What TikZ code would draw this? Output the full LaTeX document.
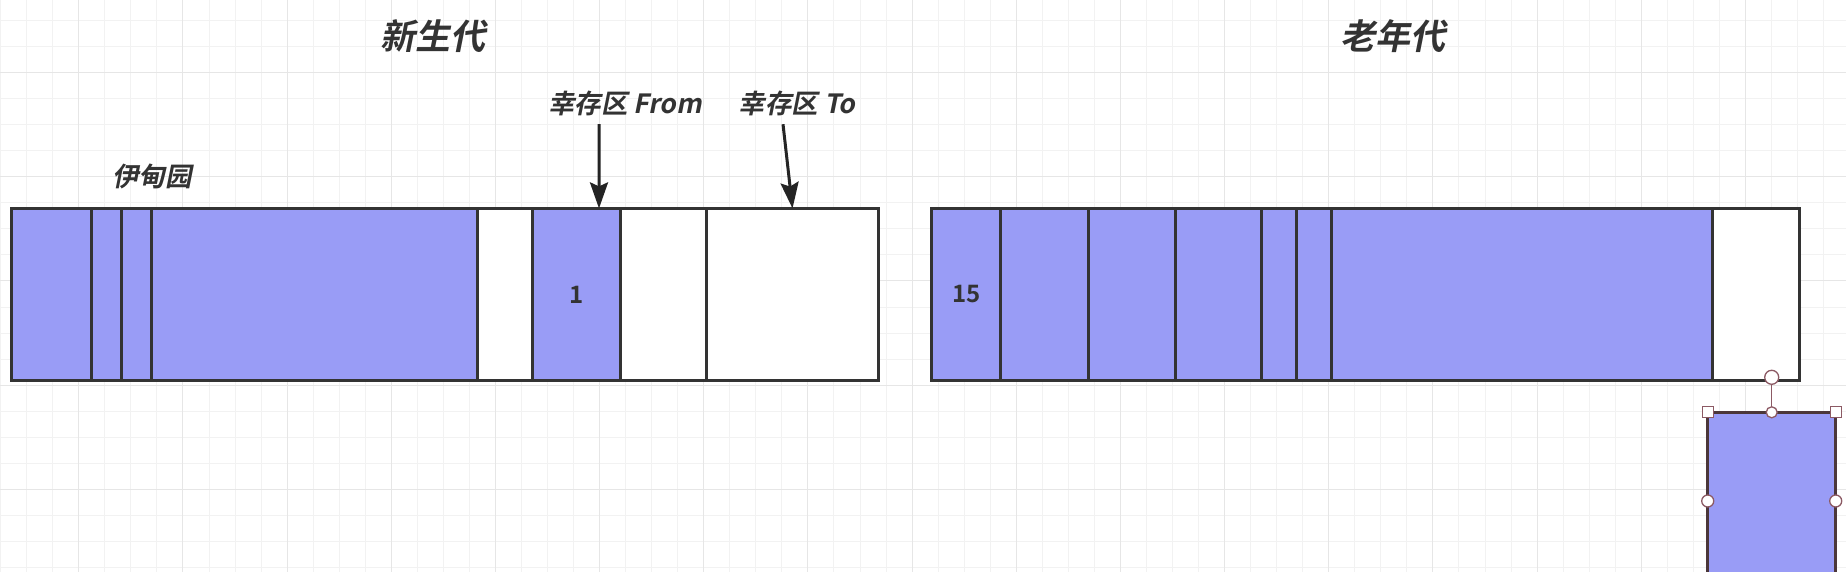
\documentclass[tikz,border=0pt]{standalone}
\usepackage{fontspec}
\newfontfamily\cjkslant{Noto Sans CJK SC Bold}[FakeSlant=0.2]
\newfontfamily\cjkupright{Noto Sans CJK SC Bold}
\usetikzlibrary{positioning,arrows.meta}
\definecolor{cellblue}{RGB}{153,156,246}
\definecolor{linedark}{RGB}{51,51,51}
\definecolor{gridminor}{RGB}{242,242,242}
\definecolor{gridmajor}{RGB}{230,230,230}
\definecolor{handle}{RGB}{140,90,100}
\definecolor{selline}{RGB}{75,55,58}

\begin{document}
\begin{tikzpicture}[x=1pt, y=-1pt, node distance=0pt,
  cell/.style = {draw=linedark, line width=3pt, minimum height=172pt, inner sep=0pt, outer sep=0pt,
                 text=linedark, font=\cjkupright\fontsize{24}{28}\selectfont},
  used/.style = {cell, fill=cellblue},
  free/.style = {cell, fill=white},
  title/.style = {text=linedark, font=\cjkslant\fontsize{35}{40}\selectfont},
  tag/.style = {text=linedark, font=\cjkslant\fontsize{26.5}{30}\selectfont,
                text height=20pt, text depth=6pt, inner sep=4pt},
  arr/.style = {draw=linedark!70!black, line width=3pt, -{Stealth[length=26pt, width=18pt, inset=4pt]}},
  hdl/.style = {draw=handle, fill=white, line width=1.3pt, inner sep=0pt}]

\useasboundingbox (0,0) rectangle (1846,572);
\clip (0,0) rectangle (1846,572);
\fill[white] (0,0) rectangle (1846,572);

% background grid
\foreach \i in {0,...,70} \draw[gridminor, line width=1pt] ({0.7+26.04*\i},0) -- ++(0,572);
\foreach \i in {0,...,22} \draw[gridminor, line width=1pt] (0,{20.56+26.04*(\i-1)}) -- ++(1846,0);
\foreach \i in {3,7,...,70} \draw[gridmajor, line width=1pt] ({0.7+26.04*\i},0) -- ++(0,572);
\foreach \i in {3,7,...,22} \draw[gridmajor, line width=1pt] (0,{20.56+26.04*(\i-1)}) -- ++(1846,0);

% young generation
\node[used, minimum width=79.3pt, anchor=north west] (eden1) at (11.7,208.4) {};
\node[used, minimum width=30.4pt, right=of eden1] (eden2) {};
\node[used, minimum width=29.6pt, right=of eden2] (eden3) {};
\node[used, minimum width=326pt, right=of eden3] (eden4) {};
\node[free, minimum width=55.5pt, right=of eden4] (eden5) {};
\node[used, minimum width=87.5pt, right=of eden5] (survfrom) {1};
\node[free, minimum width=86.5pt, right=of survfrom] (survgap) {};
\node[free, minimum width=172pt, right=of survgap] (survto) {};
\draw[linedark, line width=3.5pt] (eden1.north west) rectangle (survto.south east);

% old generation
\node[used, minimum width=69.3pt, anchor=north west] (old1) at (931.5,208.4) {15};
\node[used, minimum width=87.2pt, right=of old1] (old2) {};
\node[used, minimum width=87pt, right=of old2] (old3) {};
\node[used, minimum width=86.5pt, right=of old3] (old4) {};
\node[used, minimum width=34.5pt, right=of old4] (old5) {};
\node[used, minimum width=35pt, right=of old5] (old6) {};
\node[used, minimum width=381.7pt, right=of old6] (old7) {};
\node[free, minimum width=86.8pt, right=of old7] (old8) {};
\draw[linedark, line width=3.5pt] (old1.north west) rectangle (old8.south east);

% labels
\node[title] (young) at (433,36.5) {新生代};
\node[title] (tenured) at (1393,36.5) {老年代};
\node[tag] (eden) at (152,179) {伊甸园};
\node[tag] (lblfrom) at (625,107) {幸存区 From};
\node[tag] (lblto) at (797,107) {幸存区 To};

\draw[arr] ([xshift=-26pt]lblfrom.south) -- ([xshift=22.75pt]survfrom.north);
\draw[arr] ([xshift=-14pt]lblto.south) -- (survto.north);

% selected shape with handles
\node[draw=selline, fill=cellblue, line width=3pt, minimum width=128pt, minimum height=177.4pt,
      inner sep=0pt, outer sep=0pt, anchor=north west] (sel) at (1707.7,412.3) {};
\node[hdl, circle, minimum size=14pt] (rot) at (1771.7,377.3) {};
\draw[handle, line width=1.3pt] (rot.south) -- (sel.north);
\node[hdl, minimum size=11pt] (hnw) at (sel.north west) {};
\node[hdl, minimum size=11pt] (hne) at (sel.north east) {};
\node[hdl, circle, minimum size=11pt] (hn) at (sel.north) {};
\node[hdl, circle, minimum size=12pt] (hw) at (sel.west) {};
\node[hdl, circle, minimum size=12pt] (he) at (sel.east) {};

\end{tikzpicture}
\end{document}
